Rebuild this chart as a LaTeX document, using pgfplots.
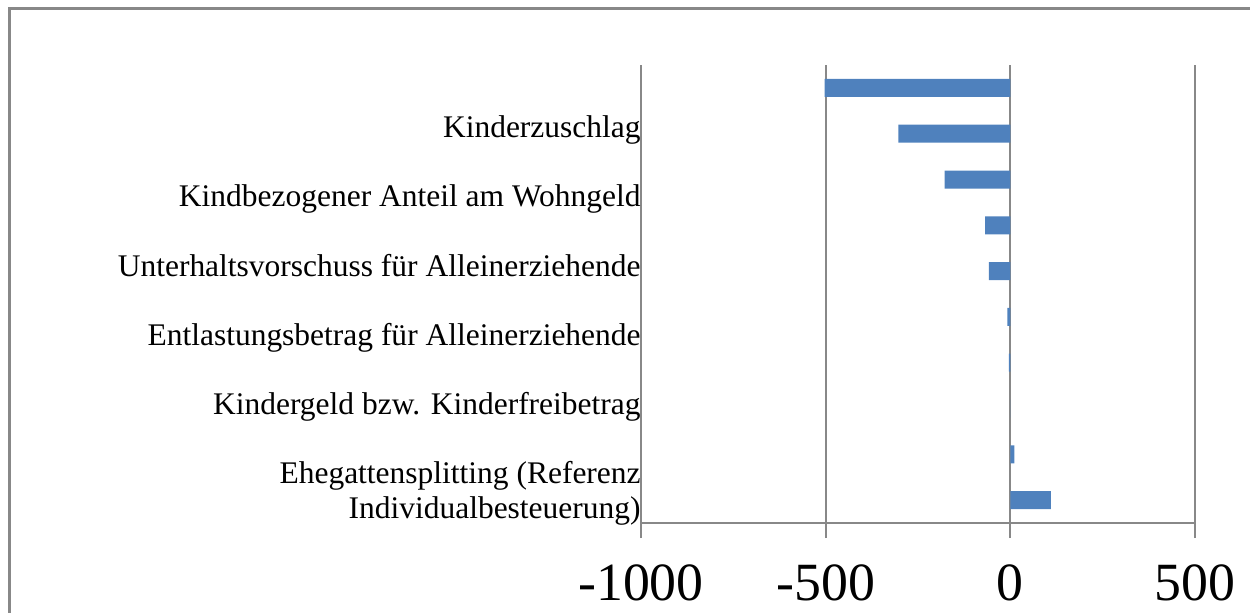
\documentclass[border=0pt]{standalone}
\usepackage{fontspec}
\setmainfont{Liberation Serif}
\usepackage{pgfplots}
\pgfplotsset{compat=1.18}
\definecolor{barblue}{HTML}{4F81BD}
\definecolor{gridgray}{HTML}{888888}
\begin{document}
\begin{tikzpicture}
\useasboundingbox (0,0) rectangle (625bp,306.5bp);
\draw[gridgray, line width=1.1bp] (4.75bp,-2bp) -- (4.75bp,302.25bp) -- (627bp,302.25bp);
\begin{axis}[
  at={(320.5bp,45bp)}, anchor=south west,
  scale only axis, width=277bp, height=229bp,
  xmin=-1000, xmax=500, ymin=0.5, ymax=10.5, y dir=reverse,
  axis x line*=bottom, axis y line*=left,
  axis line style={gridgray, line width=1bp},
  xtick={-1000,-500,0,500},
  xmajorgrids, grid style={gridgray, line width=1bp},
  xtick align=outside, major tick length=7.5bp,
  x tick style={gridgray, line width=1bp},
  /pgf/number format/assume math mode=true,
  /pgf/number format/1000 sep={},
  xticklabel style={font=\fontsize{27}{32}\selectfont, yshift=-10bp},
  ytick={2.09,3.60,5.11,6.62,8.13,10.41},
  yticklabels={Kinderzuschlag, Kindbezogener Anteil am Wohngeld, Unterhaltsvorschuss für Alleinerziehende, Entlastungsbetrag für Alleinerziehende, Kindergeld bzw. Kinderfreibetrag, {Ehegattensplitting (Referenz\\Individualbesteuerung)}},
  yticklabel style={font=\fontsize{15.8}{18}\selectfont, anchor=base east, align=right, inner sep=0pt, xshift=7.5bp},
  y tick style={draw=none},
  xbar, bar width=9bp, bar shift=0pt,
]
\addplot[fill=barblue, draw=none] coordinates {
(-503,1) (-303,2) (-178,3) (-68,4) (-58,5) (-8,6) (-4,7) (0,8) (11,9) (110,10)
};
\end{axis}
\end{tikzpicture}
\end{document}
